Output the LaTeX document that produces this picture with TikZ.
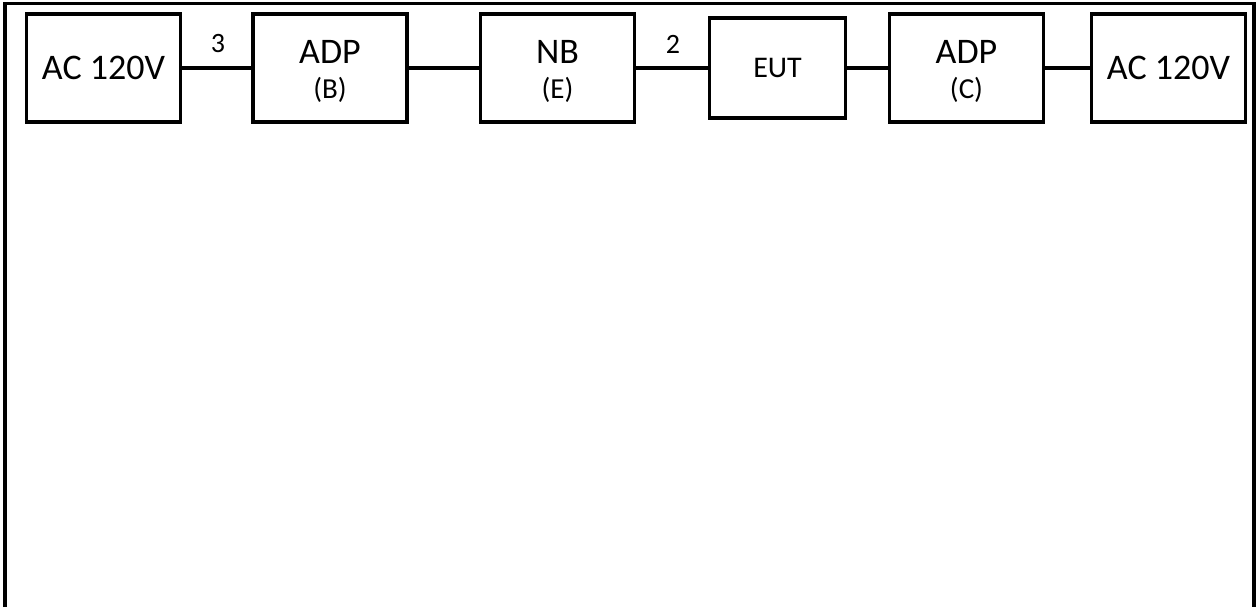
\documentclass[tikz,border=0pt]{standalone}
\usepackage{fontspec}
\setmainfont{Carlito}
\usepackage{tikz}
\newcommand{\twoline}[2]{\rule{0pt}{15pt}#1\\{\fontsize{14.5}{17}\selectfont (#2)}}

\begin{document}
\begin{tikzpicture}[
            x=0.5pt, y=-0.5pt, line width=1.6pt,
            box/.style={draw, rectangle, minimum width=77pt, minimum height=54pt, align=center, inner sep=0pt, font=\fontsize{18}{17.5}\selectfont},
            sub/.style={font=\fontsize{14}{17}\selectfont}
            ]
            \useasboundingbox (0,0) rectangle (1258,607);

            % Outer frame, open at the bottom
            \coordinate (fbl) at (5,607);
            \coordinate (ftr) at (1254,3.5);
            \coordinate (fbr) at (1254,607);
            \draw (fbl) |- (ftr) -- (fbr);

            % Nodes with manual coordinates
            \node[box] (acl) at (103.5,68) {AC 120V};
            \node[box] (adpb) at (330,68) {\twoline{ADP}{B}};
            \node[box] (nbe) at (557.5,68) {\twoline{NB}{E}};
            \node[box, minimum width=68pt, minimum height=50pt, font=\fontsize{15}{18}\selectfont] (eut) at (777.5,68) {EUT};
            \node[box] (adpc) at (966.5,68) {\twoline{ADP}{C}};
            \node[box] (acr) at (1168.5,68) {AC 120V};

            % Cable labels
            \node[sub] (cblb) at (218,44) {3};
            \node[sub] (cble) at (673,44) {2};

            % Lines
            \draw (acl.east) -- (adpb.west);
            \draw (adpb.east) -- (nbe.west);
            \draw (nbe.east) -- (eut.west);
            \draw (eut.east) -- (adpc.west);
            \draw (adpc.east) -- (acr.west);
        \end{tikzpicture}
\end{document}
